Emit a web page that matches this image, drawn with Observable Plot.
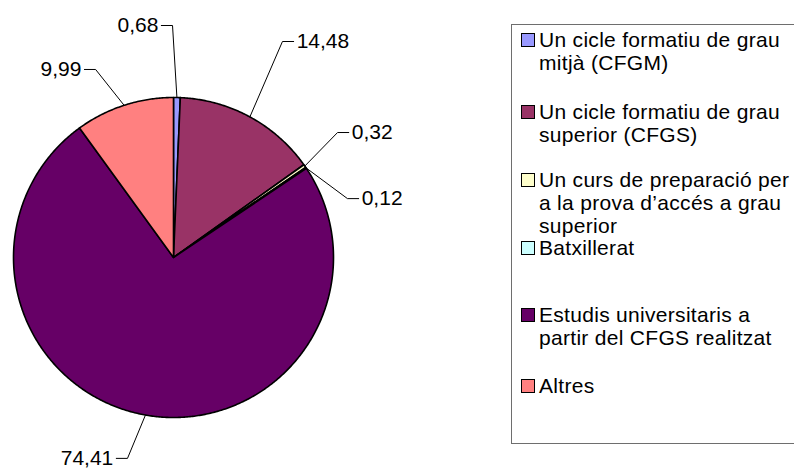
<!DOCTYPE html>
<html>
<head>
<meta charset="utf-8">
<script src="https://cdn.jsdelivr.net/npm/d3@7"></script>
<script src="https://cdn.jsdelivr.net/npm/@observablehq/plot@0.6"></script>
<style>
  body { margin: 0; background: #fff; }
  #wrap { position: relative; width: 794px; height: 468px; overflow: hidden; background: #fff; }
  #chart { position: absolute; left: 0; top: 0; }
  #legend { position: absolute; left: 511px; top: 24px; width: 320px; height: 418px; border: 1px solid #6e6e6e;
            font-family: "Liberation Sans", Arial, sans-serif; font-size: 21px; line-height: 23px; color: #000; }
  .item { position: absolute; left: 0; width: 300px; }
  .sw { position: absolute; left: 9px; top: 5px; width: 12px; height: 12px; border: 1.5px solid #000; }
  .lab { position: absolute; left: 27px; top: 0; width: 262px; letter-spacing: 0.3px; }
</style>
</head>
<body>
<div id="wrap">
  <div id="chart"></div>
  <div id="legend"></div>
</div>
<script>
// ---- data ----
const categories = [
  "Un cicle formatiu de grau mitjà (CFGM)",
  "Un cicle formatiu de grau superior (CFGS)",
  "Un curs de preparació per a la prova d’accés a grau superior",
  "Batxillerat",
  "Estudis universitaris a partir del CFGS realitzat",
  "Altres"
];
const values = [0.68, 14.48, 0.32, 0.12, 74.41, 9.99];

// ---- styles / layout ----
const colors = ["#9999FF", "#993366", "#FFFFCC", "#CCFFFF", "#660066", "#FF8080"];
const labelRadius = [1.45, 1.512, 1.289, 1.148, 1.288, 1.272];   // elbow distance (in pie radii)
const labelAngle = [-0.24, 26.77, 52.7, 71.3, 192.9, 337.5];     // elbow angle, degrees clockwise from top
const legendTops = [3.2, 74.7, 143.2, 211, 278.2, 349.2];
const stub = 0.07;
const fontFamily = "Liberation Sans, Arial, sans-serif";

// ---- geometry via d3.pie ----
const arcs = d3.pie().sort(null).value(d => d)(values);
const slicePts = [];
arcs.forEach((a, i) => {
  const key = categories[i];
  const n = Math.max(2, Math.ceil((a.endAngle - a.startAngle) / (Math.PI / 360)));
  slicePts.push({key, x: 0, y: 0});
  for (let k = 0; k <= n; k++) {
    const t = a.startAngle + (a.endAngle - a.startAngle) * k / n;
    slicePts.push({key, x: Math.sin(t), y: Math.cos(t)});
  }
  slicePts.push({key, x: 0, y: 0});
});

const leaderPts = [];
const labels = [];
arcs.forEach((a, i) => {
  const mid = (a.startAngle + a.endAngle) / 2;
  const la = labelAngle[i] * Math.PI / 180;
  const ex = labelRadius[i] * Math.sin(la), ey = labelRadius[i] * Math.cos(la);
  const right = Math.sin(la) > 0;
  const hx = ex + (right ? stub : -stub);
  leaderPts.push({key: i, x: Math.sin(mid), y: Math.cos(mid)});
  leaderPts.push({key: i, x: ex, y: ey});
  leaderPts.push({key: i, x: hx, y: ey});
  labels.push({x: hx, y: ey, right, text: values[i].toFixed(2).replace(".", ",")});
});

const chart = Plot.plot({
  width: 794,
  height: 468,
  margin: 0,
  x: {domain: [-1, 1], range: [13, 333], axis: null},
  y: {domain: [-1, 1], range: [417, 97], axis: null},
  color: {domain: categories, range: colors},
  style: {background: "transparent"},
  marks: [
    Plot.line(slicePts, {x: "x", y: "y", z: "key", fill: "key", stroke: "#000", strokeWidth: 1.6, strokeLinejoin: "round"}),
    Plot.line(leaderPts, {x: "x", y: "y", z: "key", stroke: "#000", strokeWidth: 1}),
    Plot.text(labels.filter(d => d.right), {x: "x", y: "y", text: "text", textAnchor: "start", dx: 3, fontSize: 21, fontFamily, fill: "#000"}),
    Plot.text(labels.filter(d => !d.right), {x: "x", y: "y", text: "text", textAnchor: "end", dx: -3, fontSize: 21, fontFamily, fill: "#000"})
  ]
});
document.getElementById("chart").appendChild(chart);

// ---- legend ----
const legend = d3.select("#legend");
categories.forEach((c, i) => {
  const item = legend.append("div").attr("class", "item").style("top", legendTops[i] + "px");
  item.append("div").attr("class", "sw").style("background", colors[i]);
  item.append("div").attr("class", "lab").text(c);
});
</script>
</body>
</html>
